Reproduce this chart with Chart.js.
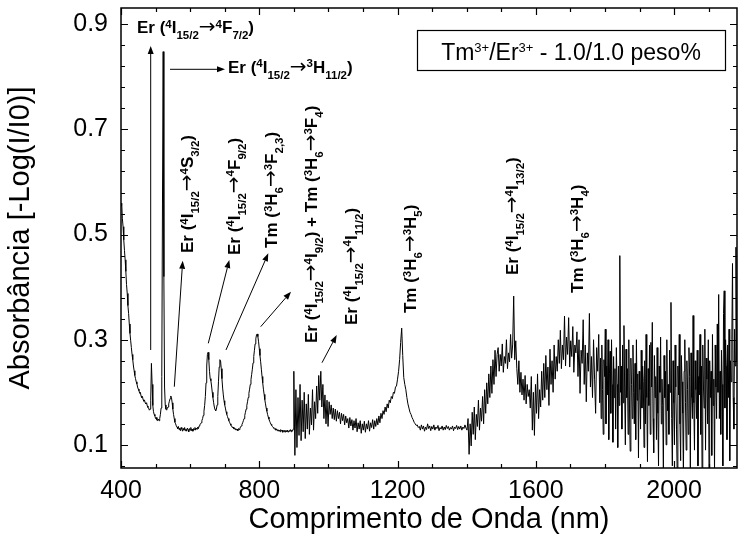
<!DOCTYPE html>
<html>
<head>
<meta charset="utf-8">
<script src="https://cdn.jsdelivr.net/npm/chart.js@4.4.1/dist/chart.umd.min.js"></script>
<style>
html,body{margin:0;padding:0;background:#fff}
#wrap{width:738px;height:540px}
</style>
</head>
<body>
<div id="wrap"><canvas id="c" width="738" height="540"></canvas></div>
<script>
// ---------- data ----------
const xTickLabels = [400, 800, 1200, 1600, 2000];
const yTickLabels = [0.1, 0.3, 0.5, 0.7, 0.9];
const xRange = [400, 2182];
const yRange = [0.056, 0.931];

const xTitle = 'Comprimento de Onda (nm)';
const yTitle = 'Absorbância [-Log(I/I0)]';
const seriesLabel = 'Tm^{3+}/Er^{3+} - 1.0/1.0 peso%';

// 400 - 898 nm, every 2 nm
const startA = 400, stepA = 2;
const absA = [
  .555,.560,.530,.515,.490,.470,.452,.430,.405,.388, // 400
  .365,.350,.330,.312,.298,.285,.272,.262,.250,.241, // 420
  .232,.226,.220,.216,.210,.206,.203,.198,.200,.193, // 440
  .190,.192,.186,.183,.185,.180,.178,.180,.174,.171, // 460
  .170,.166,.168,.185,.255,.215,.175,.163,.158,.155, // 480
  .150,.152,.147,.146,.149,.146,.150,.158,.170,.230, // 500
  .560,.848,.420,.210,.176,.168,.166,.170,.172,.178, // 520
  .183,.188,.193,.190,.180,.168,.158,.150,.143,.140, // 540
  .136,.134,.131,.135,.129,.132,.127,.133,.130,.126, // 560
  .131,.128,.133,.127,.130,.126,.132,.129,.125,.131, // 580
  .128,.133,.127,.130,.126,.131,.129,.133,.128,.132, // 600
  .130,.134,.131,.136,.138,.140,.142,.146,.150,.156, // 620
  .164,.175,.192,.218,.250,.272,.276,.262,.240,.226, // 640
  .222,.212,.200,.190,.180,.172,.167,.165,.168,.176, // 660
  .192,.220,.248,.262,.260,.245,.226,.208,.195,.184, // 680
  .176,.170,.163,.158,.154,.150,.146,.143,.140,.137, // 700
  .136,.133,.134,.131,.132,.129,.131,.128,.130,.127, // 720
  .131,.129,.132,.134,.136,.139,.142,.146,.150,.156, // 740
  .162,.168,.175,.182,.190,.198,.206,.215,.224,.234, // 760
  .244,.256,.268,.280,.292,.302,.309,.311,.306,.296, // 780
  .283,.270,.258,.244,.230,.218,.206,.196,.186,.178, // 800
  .170,.164,.158,.153,.149,.145,.142,.139,.137,.135, // 820
  .133,.132,.130,.131,.128,.130,.127,.129,.126,.128, // 840
  .125,.129,.126,.128,.124,.127,.125,.128,.124,.127, // 860
  .125,.128,.124,.127,.126,.129,.125,.128,.126,.130  // 880
];

// 900 - 1398 nm, every 3 nm
const startB = 900, stepB = 3;
const absB = [
  .240,.080,.205,.095,.190,.118,.215,.108,.185,.125, // 900
  .200,.112,.178,.130,.196,.120,.170,.138,.205,.128, // 930
  .182,.150,.212,.160,.232,.185,.240,.172,.215,.150, // 960
  .195,.140,.185,.135,                               // 990
  .182,.158,.176,.150,.170,.148,.168,.145,.165,.150, // 1002
  .162,.140,.160,.146,.158,.138,.155,.142,.150,.132, // 1032
  .152,.136,.148,.128,.146,.132,.150,.125,.142,.130, // 1062
  .146,.122,.140,.128,.145,.124,.140,.130,.146,.126, // 1092
  .142,.133,.148,.130,.146,.135,.150,.138,.155,.142, // 1122
  .160,.150,.165,.158,.172,.163,.178,.170,.185,.180, // 1152
  .192,.188,.200,.198,.210,.212,.225,.240,.262,.295, // 1182
  .322,.270,.228,.215,.205,.190,.178,.170,.162,.158, // 1212
  .152,.148,.143,.140,.137,.138,.133,                // 1242
  .135,.128,.138,.130,.136,.126,.134,.129,.140,.131, // 1263
  .136,.127,.135,.130,.138,.128,.134,.131,.137,.127, // 1293
  .133,.130,.136,.128,.134,.129,.137,.131,.135,.128, // 1323
  .133,.130,.136,.127,.134,.131,.137,.129,.135,.130, // 1353
  .136,.128,.134,.131,.138,.132                      // 1383
];

// 1401 - 1782 nm, every 3 nm
const startC = 1401, stepC = 3;
const absC = [
  .128,.150,.082,.140,                                                    // 1401
  .098,.162,.120,.172,.110,.158,.135,.185,.128,.170,.145,.192,.140,       // 1413
  .205,.160,.218,.178,.235,.190,.250,.198,.262,.215,.280,.230,.272,       // 1452
  .285,.240,.272,.250,.292,.238,.268,.255,.300,.245,.275,.258,.310,       // 1491
  .265,.290,.383,.262,.298,                                               // 1530
  .245,.215,.260,.200,.238,.195,.225,.185,.232,.178,.215,.192,.205,       // 1545
  .170,.230,.128,.200,.118,.215,.160,.235,.150,.205,.172,.240,.185,       // 1584
  .255,.190,.270,.205,.248,.175,.282,.215,.260,.200,.290,.225,.268,       // 1623
  .240,.300,.255,.318,.245,.290,.262,.345,.250,.305,                      // 1662
  .272,.342,.248,.298,.268,.325,.238,.290,.275,.315,                      // 1692
  .230,.300,.198,.280,.255,.338,.215,.290,.182,.275,                      // 1722
  .240,.350,.210,.268,.190,.300,.225,.160,.285,.240,.310                  // 1752
];

// 1785 - 2181 nm, every 2 nm
const startD = 1785, stepD = 2;
const absD = [
  .180,.265,.150,.290,.205,.120,.262,.230,.320,.140, // 1785
  .250,.195,.300,.110,.235,.278,.160,.300,.215,.105, // 1805
  .268,.190,.245,.130,.285,.215,.095,.250,.175,.460, // 1825
  .200,.250,.130,.290,.180,.327,.210,.100,.282,.190, // 1845
  .245,.120,.300,.170,.088,.265,.215,.150,.290,.200, // 1865
  .140,.255,.110,.300,.185,.235,.075,.240,.205,.130, // 1885
  .280,.170,.250,.220,.095,.260,.140,.310,.190,.068, // 1905
  .245,.175,.290,.120,.295,.210,.333,.150,.085,.270, // 1925
  .190,.230,.110,.285,.160,.060,.250,.200,.305,.140, // 1945
  .225,.175,.050,.270,.190,.240,.100,.300,.165,.215, // 1965
  .120,.280,.200,.371,.150,.060,.260,.180,.100,.290, // 1985
  .210,.130,.045,.250,.195,.310,.140,.070,.270,.220, // 2005
  .160,.040,.240,.300,.180,.090,.260,.205,.120,.285, // 2025
  .230,.055,.275,.190,.150,.346,.180,.090,.260,.205, // 2045
  .150,.280,.060,.230,.195,.310,.120,.250,.045,.290, // 2065
  .210,.170,.320,.090,.265,.225,.140,.300,.055,.260, // 2085
  .190,.240,.080,.310,.175,.225,.050,.290,.210,.150, // 2105
  .330,.200,.386,.150,.240,.120,.280,.215,.060,.350, // 2125
  .393,.170,.300,.250,.110,.290,.190,.320,.070,.260, // 2145
  .220,.300,.445,.190,.130,.320,.250,.476,.260       // 2165
];

// band assignments: anchor (nm, absorbance), rotation
const bandLabels = [
  {text: 'Er (^{4}I_{15/2}→^{4}F_{7/2})',  nm: 446.3,  a: 0.8829, rot: 0},
  {text: 'Er (^{4}I_{15/2}→^{3}H_{11/2})', nm: 709.5,  a: 0.8079, rot: 0},
  {text: 'Er (^{4}I_{15/2}→^{4}S_{3/2})',  nm: 609.7,  a: 0.4650, rot: -90},
  {text: 'Er (^{4}I_{15/2}→^{4}F_{9/2})',  nm: 744.2,  a: 0.4612, rot: -90},
  {text: 'Tm (^{3}H_{6}→^{3}F_{2,3})',     nm: 851.3,  a: 0.4745, rot: -90},
  {text: 'Er (^{4}I_{15/2}→^{4}I_{9/2}) + Tm (^{3}H_{6}→^{3}F_{4})', nm: 967.0, a: 0.2938, rot: -90},
  {text: 'Er (^{4}I_{15/2}→^{4}I_{11/2})', nm: 1082.7, a: 0.3280, rot: -90},
  {text: 'Tm (^{3}H_{6}→^{3}H_{5})',       nm: 1253.4, a: 0.3508, rot: -90},
  {text: 'Er (^{4}I_{15/2}→^{4}I_{13/2})', nm: 1548.5, a: 0.4231, rot: -90},
  {text: 'Tm (^{3}H_{6}→^{3}H_{4})',       nm: 1736.5, a: 0.3889, rot: -90}
];
const bandArrows = [
  {from: [485.9, 0.2805], to: [485.9, 0.8587]},
  {from: [541.8, 0.8144], to: [700.9, 0.8144]},
  {from: [554.2, 0.2106], to: [578.5, 0.4503]},
  {from: [652.5, 0.2932], to: [713.3, 0.4516]},
  {from: [703.7, 0.2805], to: [826.1, 0.4644]},
  {from: [804.1, 0.3248], to: [891.8, 0.3913]},
  {from: [981.5, 0.2563], to: [1024.0, 0.3090]}
];

// ---------- build series ----------
const spectrum = [
  ...absA.map((v, i) => ({x: startA + stepA * i, y: v})),
  ...absB.map((v, i) => ({x: startB + stepB * i, y: v})),
  ...absC.map((v, i) => ({x: startC + stepC * i, y: v})),
  ...absD.map((v, i) => ({x: startD + stepD * i, y: v}))
];

const FONT = '"Liberation Sans", Arial, sans-serif';
const ARROW_FONT = '"DejaVu Sans", sans-serif';

function parseRich(s) {
  const runs = []; let buf = '';
  const flush = () => { if (buf) { runs.push({t: buf, k: 'n'}); buf = ''; } };
  for (let i = 0; i < s.length; i++) {
    const c = s[i];
    if ((c === '^' || c === '_') && s[i + 1] === '{') {
      flush();
      const j = s.indexOf('}', i);
      runs.push({t: s.slice(i + 2, j), k: c === '^' ? 'sup' : 'sub'});
      i = j;
    } else if (c === '→') {
      flush(); runs.push({t: c, k: 'arr'});
    } else buf += c;
  }
  flush();
  return runs;
}
const bandStyle = {
  n:   {font: 'bold 17px ' + FONT, dy: 0},
  sup: {font: 'bold 11.5px ' + FONT, dy: -5.5},
  sub: {font: 'bold 11.5px ' + FONT, dy: 6},
  arr: {font: '20px ' + ARROW_FONT, dy: 0}
};
const legendStyle = {
  n:   {font: '23px ' + FONT, dy: 0},
  sup: {font: '13px ' + FONT, dy: -8.5},
  sub: {font: '13px ' + FONT, dy: 5},
  arr: {font: '23px ' + ARROW_FONT, dy: 0}
};
function measureRich(ctx, text, st) {
  let w = 0;
  for (const r of parseRich(text)) { ctx.font = st[r.k].font; w += ctx.measureText(r.t).width; }
  return w;
}
function drawRich(ctx, text, x, y, rotDeg, st) {
  ctx.save();
  ctx.translate(x, y);
  ctx.rotate(rotDeg * Math.PI / 180);
  ctx.textAlign = 'left'; ctx.textBaseline = 'alphabetic'; ctx.fillStyle = '#000';
  let cx = 0;
  for (const r of parseRich(text)) {
    ctx.font = st[r.k].font;
    ctx.fillText(r.t, cx, st[r.k].dy);
    cx += ctx.measureText(r.t).width;
  }
  ctx.restore();
}
function drawArrow(ctx, x1, y1, x2, y2) {
  const ang = Math.atan2(y2 - y1, x2 - x1);
  const L = 8, W = 3;
  const bx = x2 - L * Math.cos(ang), by = y2 - L * Math.sin(ang);
  ctx.beginPath(); ctx.moveTo(x1, y1); ctx.lineTo(bx, by); ctx.stroke();
  ctx.beginPath();
  ctx.moveTo(x2, y2);
  ctx.lineTo(bx + W * Math.sin(ang), by - W * Math.cos(ang));
  ctx.lineTo(bx - W * Math.sin(ang), by + W * Math.cos(ang));
  ctx.closePath(); ctx.fill();
}

const decorations = {
  id: 'decorations',
  afterDatasetsDraw(chart) {
    const {ctx, chartArea: ca, scales: {x, y}} = chart;
    ctx.save();
    ctx.strokeStyle = '#000'; ctx.fillStyle = '#000';
    // frame
    ctx.lineWidth = 1.5;
    ctx.strokeRect(ca.left, ca.top, ca.right - ca.left, ca.bottom - ca.top);
    // inward ticks
    ctx.lineWidth = 1.2;
    ctx.beginPath();
    for (let v = xRange[0]; v <= xRange[1]; v += 100) {
      const px = Math.round(x.getPixelForValue(v)) + 0.5;
      const len = xTickLabels.includes(v) ? 7 : 4;
      ctx.moveTo(px, ca.bottom); ctx.lineTo(px, ca.bottom - len);
      ctx.moveTo(px, ca.top); ctx.lineTo(px, ca.top + len);
    }
    for (let k = 0; ; k++) {
      const v = 0.06 + 0.04 * k;
      if (v > yRange[1]) break;
      const py = Math.round(y.getPixelForValue(v)) + 0.5;
      const major = yTickLabels.some(t => Math.abs(t - v) < 1e-6);
      const len = major ? 7 : 4;
      ctx.moveTo(ca.left, py); ctx.lineTo(ca.left + len, py);
      ctx.moveTo(ca.right, py); ctx.lineTo(ca.right - len, py);
    }
    ctx.stroke();
    // arrows
    ctx.lineWidth = 1;
    for (const a of bandArrows) {
      drawArrow(ctx, x.getPixelForValue(a.from[0]), y.getPixelForValue(a.from[1]),
                     x.getPixelForValue(a.to[0]), y.getPixelForValue(a.to[1]));
    }
    // band labels
    for (const l of bandLabels) {
      drawRich(ctx, l.text, x.getPixelForValue(l.nm), y.getPixelForValue(l.a), l.rot, bandStyle);
    }
    // legend box
    const bx = 417, by = 30, bw = 308, bh = 40;
    ctx.lineWidth = 1.2;
    ctx.strokeRect(bx + 0.5, by + 0.5, bw, bh);
    const tw = measureRich(ctx, seriesLabel, legendStyle);
    drawRich(ctx, seriesLabel, bx + (bw - tw) / 2, 60, 0, legendStyle);
    ctx.restore();
  }
};

new Chart(document.getElementById('c'), {
  type: 'line',
  data: {
    datasets: [{
      label: seriesLabel,
      data: spectrum,
      borderColor: '#000',
      borderWidth: 1,
      pointRadius: 0,
      tension: 0,
      fill: false
    }]
  },
  options: {
    responsive: false,
    animation: false,
    devicePixelRatio: 1,
    events: [],
    layout: {padding: {left: 0, right: 1, top: 8, bottom: 0}},
    plugins: {legend: {display: false}, tooltip: {enabled: false}},
    scales: {
      x: {
        type: 'linear', min: xRange[0], max: xRange[1],
        grid: {display: false, drawTicks: false},
        border: {display: false},
        afterBuildTicks: s => { s.ticks = xTickLabels.map(v => ({value: v})); },
        afterFit: s => { s.height = 72; s.paddingLeft = 0; s.paddingRight = 0; },
        ticks: {color: '#000', font: {family: FONT, size: 25}, padding: 8, maxRotation: 0, autoSkip: false,
                callback: v => String(v)},
        title: {display: true, text: xTitle, color: '#000', font: {family: FONT, size: 29},
                padding: {top: 0, bottom: 3}}
      },
      y: {
        type: 'linear', min: yRange[0], max: yRange[1],
        grid: {display: false, drawTicks: false},
        border: {display: false},
        afterBuildTicks: s => { s.ticks = yTickLabels.map(v => ({value: v})); },
        afterFit: s => { s.width = 121; s.paddingTop = 0; s.paddingBottom = 0; },
        ticks: {color: '#000', font: {family: FONT, size: 25}, padding: 13,
                callback: v => Number(v).toFixed(1)},
        title: {display: true, text: yTitle, color: '#000', font: {family: FONT, size: 29},
                padding: {top: 4, bottom: 0}}
      }
    }
  },
  plugins: [decorations]
});
</script>
</body>
</html>
